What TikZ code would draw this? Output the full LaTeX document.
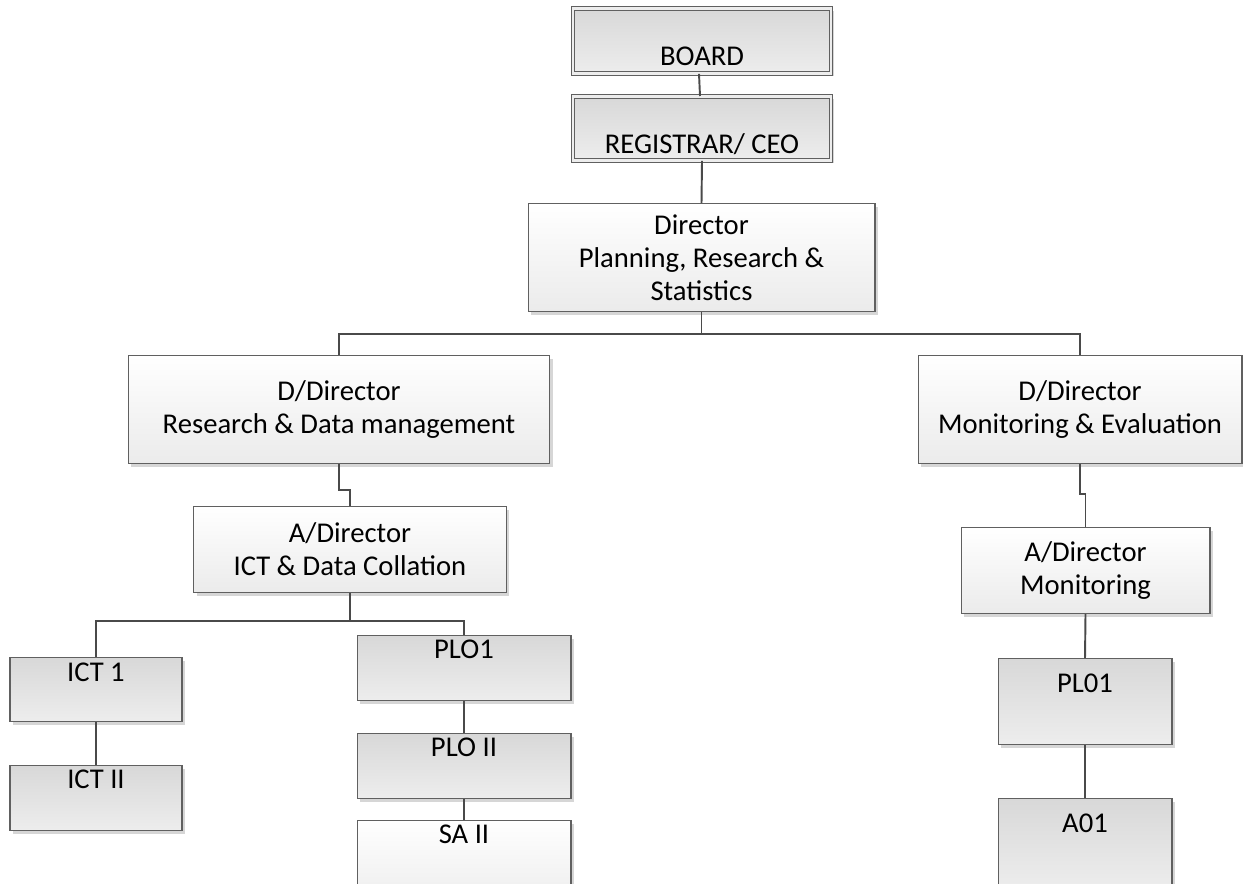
\documentclass[tikz,border=0pt]{standalone}
\usepackage{fontspec}
\setmainfont{Carlito}
\usetikzlibrary{shadows}
\definecolor{grisLinea}{HTML}{4A4A4A}
\definecolor{grisBorde}{HTML}{606060}
\definecolor{grisArriba}{HTML}{D8D8D8}
\definecolor{grisAbajo}{HTML}{EDEDED}
\definecolor{blancoAbajo}{HTML}{EBEBEB}
\definecolor{sombra}{HTML}{D6D6D6}

\begin{document}
\begin{tikzpicture}[x=0.02cm,y=-0.02cm,
  box/.style={draw=grisBorde,line width=0.6pt,inner sep=0pt,anchor=north,
    font=\fontsize{16.3}{18.8}\selectfont,align=center,
    drop shadow={shadow xshift=0.06cm,shadow yshift=-0.06cm,fill=sombra,opacity=1}},
  graybox/.style={box,top color=grisArriba,bottom color=grisAbajo},
  lightbox/.style={box,top color=white,bottom color=blancoAbajo},
  dblbox/.style={graybox,double=grisAbajo,double distance=1.6pt,line width=0.5pt},
  conn/.style={draw=grisLinea,line width=1.1pt}]
  \clip (0,0) rectangle (1243,884);
  % top of the chart
  \node[dblbox,minimum width=5.16cm,text height=1.14cm,text depth=0.16cm] (board) at (702,8) {BOARD};
  \node[dblbox,minimum width=5.16cm,text height=1.14cm,text depth=0.14cm] (reg) at (702,96) {REGISTRAR/ CEO};
  \node[lightbox,minimum width=6.94cm,minimum height=2.16cm] (dir) at (701.5,203)
    {Director\\Planning, Research \&\\Statistics};
  % deputy directors
  \node[lightbox,minimum width=8.44cm,minimum height=2.16cm] (rdm) at (339,355)
    {D/Director\\Research \& Data management};
  \node[lightbox,minimum width=6.48cm,minimum height=2.16cm] (me) at (1080,355)
    {D/Director\\Monitoring \& Evaluation};
  % assistant directors
  \node[lightbox,minimum width=6.26cm,minimum height=1.72cm] (aict) at (350,506)
    {A/Director\\ICT \& Data Collation};
  \node[lightbox,minimum width=4.98cm,minimum height=1.72cm] (amon) at (1085.5,527)
    {A/Director\\Monitoring};
  % officers
  \node[graybox,minimum width=3.44cm,text height=0.48cm,text depth=0.80cm] (ict1) at (96,657) {ICT 1};
  \node[graybox,minimum width=3.44cm,text height=0.46cm,text depth=0.84cm] (ict2) at (96,765) {ICT II};
  \node[graybox,minimum width=4.28cm,text height=0.46cm,text depth=0.84cm] (plo1) at (464,635) {PLO1};
  \node[graybox,minimum width=4.28cm,text height=0.46cm,text depth=0.84cm] (plo2) at (464,733) {PLO II};
  \node[lightbox,minimum width=4.28cm,text height=0.46cm,text depth=1.34cm] (sa2) at (464,820) {SA II};
  \node[graybox,minimum width=3.48cm,text height=0.68cm,text depth=1.04cm] (pl01) at (1085,658) {PL01};
  \node[graybox,minimum width=3.48cm,text height=0.68cm,text depth=1.12cm] (a01) at (1085,798) {A01};

  % connectors
  \draw[conn] ([xshift=-0.06cm]board.south) -- ([xshift=-0.04cm]reg.north);
  \draw[conn] (reg.south) -- (dir.north);
  \draw[conn] (dir.south) -- ++(0,22) -| (rdm.north);
  \draw[conn] (dir.south) -- ++(0,22) -| (me.north);
  \draw[conn] (rdm.south) -- ++(0,26) -| (aict.north);
  \draw[conn] (me.south) -- ++(0,30) -| (amon.north);
  \draw[conn] (aict.south) -- ++(0,28) -| (ict1.north);
  \draw[conn] (aict.south) -- ++(0,28) -| (plo1.north);
  \draw[conn] (ict1.south) -- (ict2.north);
  \draw[conn] (plo1.south) -- (plo2.north);
  \draw[conn] (plo2.south) -- (sa2.north);
  \draw[conn] (amon.south) -- (pl01.north);
  \draw[conn] (pl01.south) -- (a01.north);
\end{tikzpicture}
\end{document}
